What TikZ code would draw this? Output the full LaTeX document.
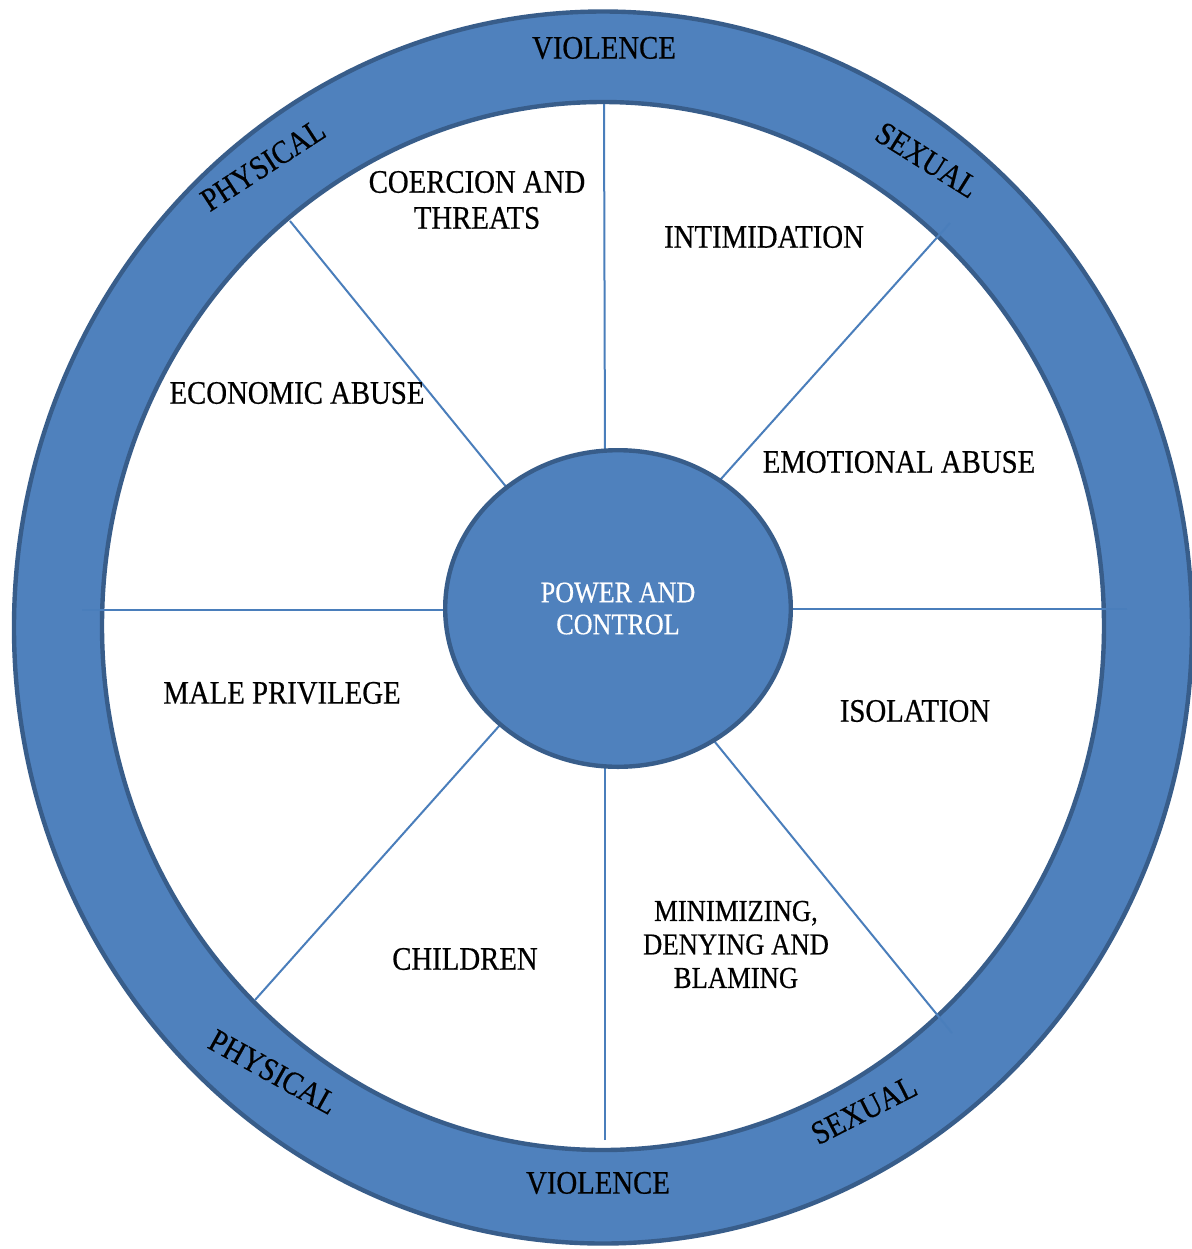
\documentclass[tikz,border=0pt]{standalone}
\usepackage{fontspec}
\setmainfont{Liberation Serif}[FakeStretch=0.877, FakeBold=0.5]
\usetikzlibrary{shapes.geometric}
\definecolor{ringblue}{HTML}{4F81BD}
\definecolor{ringedge}{HTML}{385D8A}
\definecolor{spokeblue}{HTML}{4A7EBB}
\begin{document}
\begin{tikzpicture}[x=0.5pt,y=-0.5pt,
  lbl/.style={font=\fontsize{16.4}{18}\selectfont, inner sep=0pt, align=center, text=black},
  smalllbl/.style={font=\fontsize{15.2}{16.75}\selectfont, inner sep=0pt, align=center, text=black},
  spokeline/.style={draw=spokeblue, line width=1pt},
  edgeline/.style={draw=ringedge, line width=2.2pt}]
\useasboundingbox (0,0) rectangle (1192,1249);
\fill[white] (0,0) rectangle (1192,1249);
% ring
\fill[ringblue, even odd rule] (603,627.5) ellipse [x radius=589, y radius=616]
                               (603,626) ellipse [x radius=501, y radius=524];
\path[edgeline] (603,627.5) ellipse [x radius=589, y radius=616];
\path[edgeline] (603,626) ellipse [x radius=501, y radius=524];
% spoke end points
\coordinate (t1) at (604,104);   \coordinate (t2) at (605,460);
\coordinate (ur1) at (950,223);  \coordinate (ur2) at (712,489);
\coordinate (r1) at (1127,609);  \coordinate (r2) at (780,609);
\coordinate (lr1) at (952,1033); \coordinate (lr2) at (706,731);
\coordinate (b1) at (605,1140);  \coordinate (b2) at (605,755);
\coordinate (ll1) at (255,1000); \coordinate (ll2) at (508,716);
\coordinate (l1) at (82,610);    \coordinate (l2) at (455,610);
\coordinate (ul1) at (290,221);  \coordinate (ul2) at (512,494);
\foreach \a in {t,ur,r,lr,b,ll,l,ul} {\path[spokeline] (\a1) -- (\a2);}
% centre
\node[ellipse, fill=ringblue, edgeline, minimum width=172.8pt, minimum height=158.3pt,
      inner sep=0pt, font=\fontsize{14.9}{16}\selectfont, text=white, align=center]
      (pc) at (618,608.5) {POWER AND\\CONTROL};
% ring labels
\node[lbl] (v1) at (604,48) {VIOLENCE};
\node[lbl] (v2) at (598,1183) {VIOLENCE};
\node[lbl, rotate=33] (p1) at (263,165) {PHYSICAL};
\node[lbl, rotate=-32] (s1) at (927,160) {SEXUAL};
\node[lbl, rotate=-29] (p2) at (273,1072) {PHYSICAL};
\node[lbl, rotate=27] (s2) at (864,1110) {SEXUAL};
% sector labels
\node[lbl] (coe) at (477,200) {COERCION AND\\THREATS};
\node[lbl] (inti) at (764,237) {INTIMIDATION};
\node[lbl] (eco) at (297,393) {ECONOMIC ABUSE};
\node[lbl] (emo) at (899,462) {EMOTIONAL ABUSE};
\node[lbl] (male) at (282,693) {MALE PRIVILEGE};
\node[lbl] (iso) at (915,711) {ISOLATION};
\node[lbl] (chi) at (465,959) {CHILDREN};
\node[smalllbl] (mini) at (736,944.5) {MINIMIZING,\\DENYING AND\\BLAMING};
\end{tikzpicture}
\end{document}
